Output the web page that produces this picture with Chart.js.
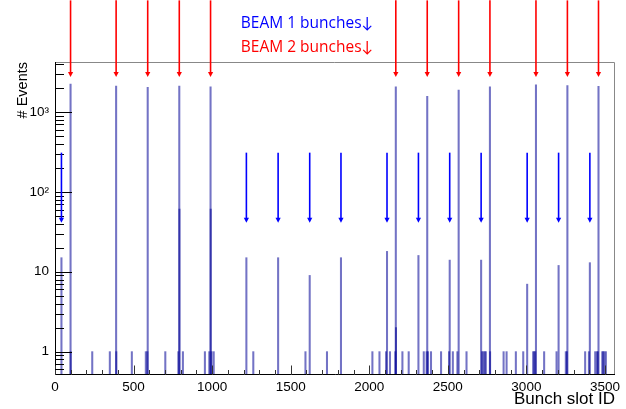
<!DOCTYPE html>
<html>
<head>
<meta charset="utf-8">
<script src="https://cdn.jsdelivr.net/npm/chart.js@4.4.1/dist/chart.umd.min.js"></script>
<style>
  html, body { margin: 0; padding: 0; background: #fff; }
  canvas { display: block; }
</style>
</head>
<body>
<canvas id="c" width="626" height="409" style="width:626px;height:409px"></canvas>
<script>
// ---- data ----
const slotIds = [41, 99, 100, 237, 349, 389, 390, 489, 578, 588, 590, 702, 785, 791, 792, 814,
  954, 982, 990, 991, 996, 1010, 1218, 1262, 1420, 1594, 1621, 1731, 1820, 2020, 2065, 2107,
  2113, 2132, 2166, 2169, 2170, 2211, 2251, 2313, 2347, 2365, 2369, 2374, 2393, 2457, 2508,
  2512, 2532, 2561, 2569, 2619, 2712, 2718, 2727, 2735, 2742, 2768, 2769, 2855, 2874, 2933,
  2980, 3005, 3043, 3050, 3056, 3061, 3113, 3192, 3205, 3251, 3258, 3261, 3374, 3398, 3404,
  3438, 3449, 3455, 3459, 3483, 3489, 3496, 3506];
const eventCounts = [15, 2240, 1, 1, 1, 2110, 1, 1, 1, 1, 2040, 1, 1, 2110, 61, 1,
  1, 1, 2070, 61, 1, 1, 15, 1, 15, 1, 9, 1, 15, 1, 1, 1,
  18, 1, 1, 2070, 2, 1, 1, 16, 1, 1, 1570, 1, 1, 1, 1,
  14, 1, 1, 1880, 1, 14, 1, 1, 1, 1, 2070, 1, 1, 1, 1,
  1, 7, 1, 1, 1, 2190, 1, 1, 12, 1, 1, 2150, 1, 1, 13,
  1, 1, 1, 2100, 1, 1, 1, 1];
const beam1Bunches = [41, 1218, 1420, 1621, 1820, 2113, 2313, 2512, 2712, 3005, 3205, 3404];
const beam2Bunches = [99, 389, 590, 791, 990, 2169, 2369, 2569, 2768, 3061, 3261, 3459];
const xTickLabels = [0, 500, 1000, 1500, 2000, 2500, 3000, 3500];
const yTickLabels = { 1: '1', 10: '10', 100: '10\u00B2', 1000: '10\u00B3' };
const beam1ArrowRange = [310, 41];     // events: arrow tail -> tip
const beam2ArrowRange = [25000, 2750]; // events: arrow tail -> tip
const xRange = [0, 3564];
const yRange = [0.51, 4230];

// ---- plugins ----
function arrow(ctx, x, y0, y1, color) {
  ctx.strokeStyle = color; ctx.fillStyle = color; ctx.lineWidth = 1.6;
  ctx.beginPath(); ctx.moveTo(x, y0); ctx.lineTo(x, y1 - 3); ctx.stroke();
  ctx.beginPath(); ctx.moveTo(x - 2.6, y1 - 5); ctx.lineTo(x + 2.6, y1 - 5); ctx.lineTo(x, y1); ctx.closePath(); ctx.fill();
}
const rootDecor = {
  id: 'rootDecor',
  afterDraw(chart) {
    const { ctx, chartArea: a, scales: { x, y } } = chart;
    ctx.save();
    // frame
    ctx.lineWidth = 1;
    ctx.strokeStyle = '#888';
    ctx.beginPath();
    ctx.moveTo(a.left, a.top + 0.5); ctx.lineTo(a.right - 0.5, a.top + 0.5); ctx.lineTo(a.right - 0.5, a.bottom);
    ctx.stroke();
    ctx.strokeStyle = '#000';
    ctx.beginPath();
    ctx.moveTo(a.left + 0.5, a.top); ctx.lineTo(a.left + 0.5, a.bottom - 0.5); ctx.lineTo(a.right, a.bottom - 0.5);
    ctx.stroke();
    // x ticks (inward)
    ctx.strokeStyle = '#333';
    ctx.beginPath();
    for (let v = 0; v <= xRange[1]; v += 100) {
      const px = Math.round(x.getPixelForValue(v)) + 0.5;
      const len = v % 500 === 0 ? 9.5 : 5;
      ctx.moveTo(px, a.bottom); ctx.lineTo(px, a.bottom - len);
    }
    ctx.stroke();
    // y ticks (inward, log)
    ctx.strokeStyle = '#000';
    ctx.beginPath();
    for (let d = -1; d <= 3; d++) {
      for (let m = 1; m <= 9; m++) {
        const v = m * Math.pow(10, d);
        if (v < yRange[0] || v > yRange[1]) continue;
        const py = Math.round(y.getPixelForValue(v)) + 0.5;
        const len = m === 1 ? 17 : 9;
        ctx.moveTo(a.left, py); ctx.lineTo(a.left + len, py);
      }
    }
    ctx.stroke();
    // arrows
    beam1Bunches.forEach(s => {
      const px = x.getPixelForValue(s);
      arrow(ctx, px, y.getPixelForValue(beam1ArrowRange[0]), y.getPixelForValue(beam1ArrowRange[1]), '#0000ff');
    });
    beam2Bunches.forEach(s => {
      const px = x.getPixelForValue(s);
      arrow(ctx, px, y.getPixelForValue(beam2ArrowRange[0]), y.getPixelForValue(beam2ArrowRange[1]), '#ff0000');
    });
    // legend texts
    ctx.font = '15.5px "Open Sans", Lato, sans-serif';
    ctx.textAlign = 'center'; ctx.textBaseline = 'middle';
    ctx.fillStyle = '#0000ff';
    ctx.fillText('BEAM 1 bunches\u2193', 307, 24);
    ctx.fillStyle = '#ff0000';
    ctx.fillText('BEAM 2 bunches\u2193', 307, 48);
    ctx.restore();
  }
};

const labelFont = { family: '"Liberation Sans", Arial, sans-serif', size: 13.5 };

new Chart(document.getElementById('c'), {
  type: 'bar',
  data: {
    datasets: [{
      data: slotIds.map((s, i) => ({ x: s, y: eventCounts[i] })),
      backgroundColor: 'rgba(0,0,150,0.55)',
      borderWidth: 0,
      barThickness: 1.4,
      grouped: false
    }]
  },
  options: {
    responsive: false,
    animation: false,
    layout: { padding: { top: 62, right: 11, left: 0, bottom: 0 } },
    plugins: { legend: { display: false }, tooltip: { enabled: false } },
    scales: {
      x: {
        type: 'linear', min: xRange[0], max: xRange[1], offset: false,
        grid: { display: false, drawTicks: false },
        border: { display: false },
        afterBuildTicks: s => { s.ticks = xTickLabels.map(v => ({ value: v })); },
        afterFit: s => { s.height = 34; s.paddingLeft = 0; s.paddingRight = 0; },
        ticks: { color: '#000', font: labelFont, padding: 4, maxRotation: 0, autoSkip: false,
                 callback: v => String(v) },
        title: { display: true, text: 'Bunch slot ID', align: 'end', color: '#000',
                 font: { family: '"Liberation Sans", Arial, sans-serif', size: 17 }, padding: { top: 0, bottom: -1 } }
      },
      y: {
        type: 'logarithmic', min: yRange[0], max: yRange[1],
        grid: { display: false, drawTicks: false },
        border: { display: false },
        afterBuildTicks: s => { s.ticks = Object.keys(yTickLabels).map(v => ({ value: +v, major: true })); },
        afterFit: s => { s.width = 55; s.paddingTop = 0; s.paddingBottom = 0; },
        ticks: { color: '#000', font: labelFont, padding: 6, autoSkip: false,
                 callback: v => yTickLabels[v] || '' },
        title: { display: true, text: '# Events', align: 'end', color: '#000',
                 font: { family: '"Liberation Sans", Arial, sans-serif', size: 14.5 }, padding: { top: 14, bottom: 0 } }
      }
    }
  },
  plugins: [rootDecor]
});
</script>
</body>
</html>
